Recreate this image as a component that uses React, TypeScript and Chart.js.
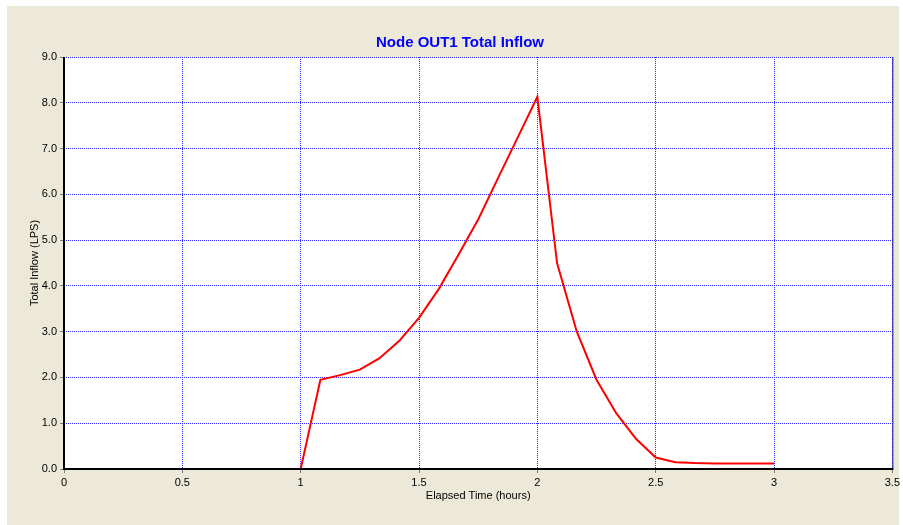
import React, { useEffect, useRef } from "react";
import { Chart, registerables } from "chart.js";

Chart.register(...registerables);

const TITLE = "Node OUT1 Total Inflow";
const X_TITLE = "Elapsed Time (hours)";
const Y_TITLE = "Total Inflow (LPS)";

const timeHours = [
  1.0, 1.0833, 1.1667, 1.25, 1.3333, 1.4167, 1.5, 1.5833, 1.6667, 1.75, 1.8333, 1.9167, 2.0,
  2.0833, 2.1667, 2.25, 2.3333, 2.4167, 2.5, 2.5833, 2.6667, 2.75, 2.8333, 2.9167, 3.0,
];
const inflowLps = [
  0, 1.95, 2.05, 2.17, 2.42, 2.8, 3.3, 3.93, 4.68, 5.45, 6.35, 7.24, 8.13,
  4.5, 3.0, 1.95, 1.22, 0.66, 0.25, 0.15, 0.13, 0.12, 0.12, 0.12, 0.12,
];

const X_MIN = 0;
const X_MAX = 3.5;
const X_STEP = 0.5;
const Y_MIN = 0;
const Y_MAX = 9;
const Y_STEP = 1;

const BEIGE = "#ECE9D8";
const GRID = "#2828ff";
const FONT = "'Liberation Sans', Arial, sans-serif";

const backgroundPlugin = {
  id: "bgPlugin",
  beforeDraw(chart: any) {
    const { ctx, width, height } = chart;
    ctx.save();
    ctx.fillStyle = "#ffffff";
    ctx.fillRect(0, 0, width, height);
    ctx.fillStyle = BEIGE;
    ctx.fillRect(7, 6, 892, height - 6);
    const a = chart.chartArea;
    ctx.fillStyle = "#ffffff";
    ctx.fillRect(a.left, a.top, a.right - a.left, a.bottom - a.top);
    ctx.restore();
  },
  afterDraw(chart: any) {
    const { ctx } = chart;
    const a = chart.chartArea;
    ctx.save();
    ctx.strokeStyle = "#1a1a8c";
    ctx.lineWidth = 1;
    ctx.beginPath();
    ctx.moveTo(a.right + 0.5, a.top);
    ctx.lineTo(a.right + 0.5, a.bottom);
    ctx.stroke();
    // black axis lines (left and bottom)
    ctx.strokeStyle = "#000000";
    ctx.lineWidth = 2;
    ctx.beginPath();
    ctx.moveTo(a.left, a.top);
    ctx.lineTo(a.left, a.bottom + 1);
    ctx.moveTo(a.left - 1, a.bottom);
    ctx.lineTo(a.right + 1, a.bottom);
    ctx.stroke();
    ctx.fillStyle = "#0000ff";
    ctx.font = "bold 15px " + FONT;
    ctx.textAlign = "center";
    ctx.textBaseline = "middle";
    ctx.fillText(TITLE, 460, 43);
    ctx.restore();
  },
};

export default function App() {
  const ref = useRef<HTMLCanvasElement | null>(null);

  useEffect(() => {
    if (!ref.current) return;
    const points = timeHours.map((t, i) => ({ x: t, y: inflowLps[i] }));
    const chart = new Chart(ref.current, {
      type: "line",
      data: {
        datasets: [
          {
            data: points,
            borderColor: "#ff0000",
            borderWidth: 2,
            pointRadius: 0,
            tension: 0,
            fill: false,
          },
        ],
      },
      plugins: [backgroundPlugin],
      options: {
        animation: false,
        responsive: false,
        maintainAspectRatio: false,
        devicePixelRatio: 1,
        layout: { padding: { left: 0, right: 6, top: 57, bottom: 0 } },
        plugins: {
          legend: { display: false },
          tooltip: { enabled: false },
          title: { display: false },
        },
        scales: {
          x: {
            type: "linear",
            min: X_MIN,
            max: X_MAX,
            afterFit(scale: any) {
              scale.height = 56;
            },
            ticks: {
              stepSize: X_STEP,
              color: "#000000",
              font: { family: FONT, size: 11 },
              padding: 3,
              maxRotation: 0,
              autoSkip: false,
              callback: (v: any) => String(Number(v)),
            },
            grid: {
              color: GRID,
              lineWidth: 1,
              tickLength: 4,
              tickColor: "#808080",
              tickBorderDash: [],
            },
            border: { display: false, color: GRID, width: 1, dash: [1, 1] },
            title: {
              display: true,
              text: X_TITLE,
              color: "#000000",
              font: { family: FONT, size: 11 },
              padding: { top: 0, bottom: 22 },
            },
          },
          y: {
            type: "linear",
            min: Y_MIN,
            max: Y_MAX,
            afterFit(scale: any) {
              scale.width = 64;
            },
            ticks: {
              stepSize: Y_STEP,
              color: "#000000",
              font: { family: FONT, size: 11 },
              padding: 3,
              callback: (v: any) => Number(v).toFixed(1),
            },
            grid: {
              color: GRID,
              lineWidth: 1,
              tickLength: 4,
              tickColor: "#808080",
              tickBorderDash: [],
            },
            border: { display: false, color: GRID, width: 1, dash: [1, 1] },
            title: {
              display: true,
              text: Y_TITLE,
              color: "#000000",
              font: { family: FONT, size: 11 },
              padding: { top: 28, bottom: 0 },
            },
          },
        },
      } as any,
    });
    return () => chart.destroy();
  }, []);

  return (
    <div style={{ position: "fixed", left: 0, top: 0, width: 903, height: 525 }}>
      <canvas ref={ref} width={903} height={525} style={{ width: 903, height: 525, display: "block" }} />
    </div>
  );
}
